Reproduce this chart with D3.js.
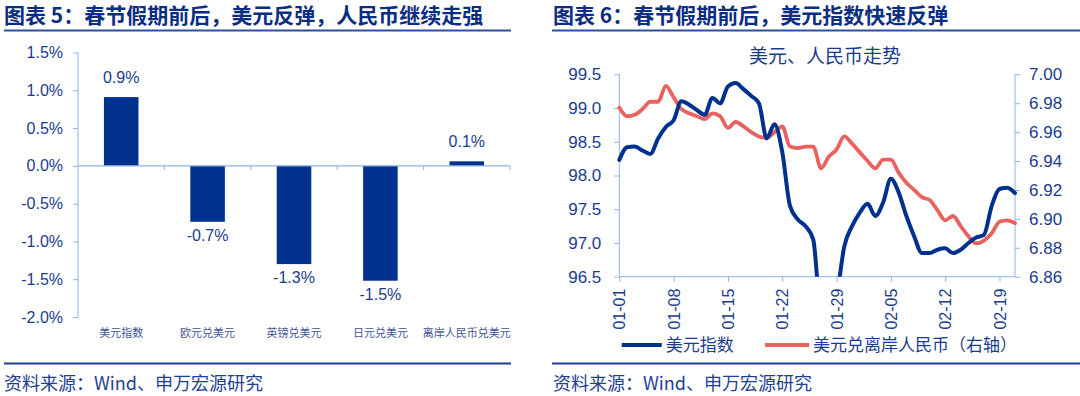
<!DOCTYPE html>
<html><head><meta charset="utf-8">
<script src="https://cdn.jsdelivr.net/npm/d3@7/dist/d3.min.js"></script>
<style>
html,body{margin:0;padding:0;background:#fff;}
svg{display:block;}
text{font-family:"Liberation Sans",Arial,"Noto Sans CJK SC",sans-serif;}
.cjk{font-family:"Noto Sans CJK SC","Liberation Sans",sans-serif;}
</style></head>
<body>
<svg id="c" width="1080" height="396"></svg>
<script>
// ---------- data: left chart ----------
const barCategories = ["美元指数","欧元兑美元","英镑兑美元","日元兑美元","离岸人民币兑美元"];
const barValues = [0.91, -0.74, -1.30, -1.52, 0.06];
const barTicks = [-2.0,-1.5,-1.0,-0.5,0.0,0.5,1.0,1.5];

// ---------- data: right chart ----------
const dates = ["01-01","01-02","01-03","01-04","01-05","01-06","01-07","01-08","01-09","01-10",
  "01-11","01-12","01-13","01-14","01-15","01-16","01-17","01-18","01-19","01-20",
  "01-21","01-22","01-23","01-24","01-25","01-26","01-27","01-28","01-29","01-30",
  "01-31","02-01","02-02","02-03","02-04","02-05","02-06","02-07","02-08","02-09",
  "02-10","02-11","02-12","02-13","02-14","02-15","02-16","02-17","02-18","02-19",
  "02-20","02-21"];
const dxy = [98.23,98.42,98.43,98.37,98.32,98.55,98.72,98.82,99.10,99.05,
  98.97,98.90,99.15,99.07,99.32,99.37,99.28,99.18,99.07,98.55,
  98.76,98.35,97.55,97.35,97.25,97.05,95.95,95.90,96.20,96.95,
  97.25,97.45,97.58,97.40,97.60,97.95,97.75,97.40,97.10,96.85,
  96.85,96.90,96.92,96.85,96.90,97.00,97.08,97.12,97.55,97.80,
  97.82,97.74];
const cnh = [6.977,6.971,6.972,6.976,6.981,6.981,6.992,6.984,6.976,6.973,
  6.971,6.969,6.973,6.971,6.963,6.967,6.964,6.960,6.957,6.956,
  6.960,6.964,6.950,6.949,6.950,6.950,6.935,6.943,6.948,6.957,
  6.952,6.946,6.940,6.935,6.941,6.941,6.932,6.925,6.920,6.915,
  6.913,6.906,6.899,6.902,6.895,6.888,6.883,6.885,6.890,6.898,
  6.899,6.897];
const leftTicks = [96.5,97.0,97.5,98.0,98.5,99.0,99.5];
const rightTicks = [6.86,6.88,6.90,6.92,6.94,6.96,6.98,7.00];
const xTickDates = ["01-01","01-08","01-15","01-22","01-29","02-05","02-12","02-19"];
const seriesNames = ["美元指数","美元兑离岸人民币（右轴）"];

const NAVY = "#0B2E82", TXT = "#1B3C8E", AXIS = "#8DB4E2", BAR = "#00318F", RED = "#E9625F";
const svg = d3.select("#c");
const pct = d => d3.format(".1f")(d).replace("\u2212","-") + "%";

// ---------- headers & footers ----------
function header(x, lineX1, lineX2, title){
  svg.append("text").attr("class","cjk").attr("x",x).attr("y",23)
    .attr("font-size",21).attr("font-weight","bold").attr("fill",NAVY).text(title);
  svg.append("line").attr("x1",lineX1).attr("x2",lineX2).attr("y1",30.5).attr("y2",30.5)
    .attr("stroke","#2A4FA8").attr("stroke-width",2);
  svg.append("line").attr("x1",lineX1).attr("x2",lineX2).attr("y1",363.5).attr("y2",363.5)
    .attr("stroke","#1E3F90").attr("stroke-width",2);
  svg.append("text").attr("class","cjk").attr("x",x).attr("y",390)
    .attr("font-size",18).attr("fill","#1E3F92").text("资料来源：Wind、申万宏源研究");
}
header(4, 4, 511, "图表 5：春节假期前后，美元反弹，人民币继续走强");
header(553, 552, 1080, "图表 6：春节假期前后，美元指数快速反弹");

// ---------- left bar chart ----------
const yB = d3.scaleLinear().domain([-2,1.5]).range([317,52.5]);
const xB = d3.scaleBand().domain(barCategories).range([78,510]).paddingInner(0.6).paddingOuter(0.3);
const gL = svg.append("g");
const yAxB = d3.axisLeft(yB).tickValues(barTicks).tickFormat(pct).tickSize(5).tickPadding(10);
const ga = gL.append("g").attr("transform","translate(78,0)").call(yAxB);
ga.select(".domain").attr("stroke",AXIS).attr("d","M0,52.5V317");
ga.selectAll(".tick line").attr("stroke",AXIS);
ga.selectAll(".tick text").attr("fill",TXT).attr("font-size",16);

gL.selectAll("rect.bar").data(barValues).join("rect")
  .attr("x",(d,i)=>xB(barCategories[i])).attr("width",xB.bandwidth())
  .attr("y",d=>yB(Math.max(0,d))).attr("height",d=>Math.abs(yB(d)-yB(0)))
  .attr("fill",BAR);
// zero axis
gL.append("line").attr("x1",78).attr("x2",510).attr("y1",yB(0)).attr("y2",yB(0)).attr("stroke",AXIS).attr("stroke-width",1.2);
const bounds = barCategories.map((c,i)=>78+xB.step()*(i+1));
gL.selectAll("line.bt").data(bounds).join("line").attr("x1",d=>d).attr("x2",d=>d)
  .attr("y1",yB(0)).attr("y2",yB(0)+4).attr("stroke",AXIS);
gL.selectAll("text.vl").data(barValues).join("text")
  .attr("x",(d,i)=>xB(barCategories[i])+xB.bandwidth()/2)
  .attr("y",d=>d>=0? yB(d)-14 : yB(d)+19)
  .attr("text-anchor","middle").attr("font-size",16).attr("fill",TXT)
  .text(pct);
gL.selectAll("text.cl").data(barCategories).join("text").attr("class","cjk")
  .attr("x",d=>xB(d)+xB.bandwidth()/2).attr("y",337)
  .attr("text-anchor","middle").attr("font-size",11).attr("fill","#3F5496")
  .text(d=>d);

// ---------- right line chart ----------
const parse = d3.utcParse("%Y-%m-%d");
const toDate = s=>parse("2026-"+s);
const x = d3.scaleUtc().domain([toDate("01-01"), toDate("02-21")]).range([619.3,1015]);
const yL = d3.scaleLinear().domain([96.5,99.5]).range([276.7,74.3]);
const yR = d3.scaleLinear().domain([6.86,7.00]).range([276.7,74.3]);
const gR = svg.append("g");

gR.append("text").attr("class","cjk").attr("x",825).attr("y",63).attr("text-anchor","middle")
  .attr("font-size",19).attr("fill",TXT).text("美元、人民币走势");

const axL = gR.append("g").attr("transform","translate(619.3,0)")
  .call(d3.axisLeft(yL).tickValues(leftTicks).tickFormat(d3.format(".1f")).tickSize(5).tickPadding(13));
const axR = gR.append("g").attr("transform","translate(1015,0)")
  .call(d3.axisRight(yR).tickValues(rightTicks).tickFormat(d3.format(".2f")).tickSize(5).tickPadding(9));
const axX = gR.append("g").attr("transform","translate(0,276.7)")
  .call(d3.axisBottom(x).tickValues(xTickDates.map(toDate)).tickFormat(d3.utcFormat("%m-%d")).tickSize(5));
[axL,axR,axX].forEach(a=>{
  a.select(".domain").attr("stroke",AXIS);
  a.selectAll(".tick line").attr("stroke",AXIS);
  a.selectAll(".tick text").attr("fill",TXT).attr("font-size",17);
});
axL.select(".domain").attr("d","M0,74.3V276.7");
axR.select(".domain").attr("d","M0,74.3V276.7");
axX.select(".domain").attr("d","M619.3,0H1015");
axX.selectAll(".tick text").attr("font-size",16)
  .attr("transform","translate(0,12) rotate(-90)").attr("text-anchor","end")
  .attr("x",0).attr("y",0).attr("dy","0.35em");

gR.append("clipPath").attr("id","plotclip").append("rect")
  .attr("x",610).attr("y",60).attr("width",420).attr("height",276.7-60);
const pts = dates.map((d,i)=>({t:toDate(d), a:dxy[i], b:cnh[i]}));
const lineA = d3.line().x(d=>x(d.t)).y(d=>yL(d.a)).curve(d3.curveMonotoneX);
const lineB = d3.line().x(d=>x(d.t)).y(d=>yR(d.b)).curve(d3.curveMonotoneX);
const plot = gR.append("g").attr("clip-path","url(#plotclip)");
plot.append("path").datum(pts).attr("d",lineB).attr("fill","none").attr("stroke",RED)
  .attr("stroke-width",3.8).attr("stroke-linejoin","round").attr("stroke-linecap","round");
plot.append("path").datum(pts).attr("d",lineA).attr("fill","none").attr("stroke",BAR)
  .attr("stroke-width",4).attr("stroke-linejoin","round").attr("stroke-linecap","round");

// legend
const legX = [621.7, 765], legW = [40, 44], legC = [BAR, RED];
seriesNames.forEach((n,i)=>{
  gR.append("line").attr("x1",legX[i]).attr("x2",legX[i]+legW[i]).attr("y1",345).attr("y2",345)
    .attr("stroke",legC[i]).attr("stroke-width",4);
  gR.append("text").attr("class","cjk").attr("x",legX[i]+legW[i]+4).attr("y",351)
    .attr("font-size",17).attr("fill",TXT).text(n);
});
</script>
</body></html>
